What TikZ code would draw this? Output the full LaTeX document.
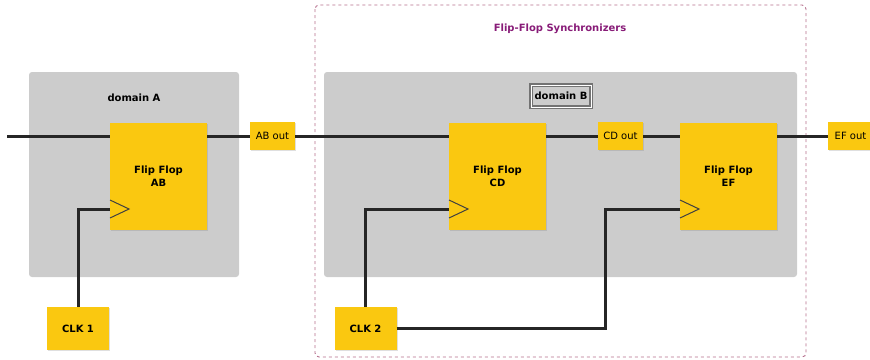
\documentclass[tikz,border=0pt]{standalone}
\usepackage{fontspec}
\setmainfont{DejaVu Sans}
\usetikzlibrary{shadows,calc}
\definecolor{ffyellow}{RGB}{250,200,16}
\definecolor{domgray}{RGB}{204,204,204}
\definecolor{synpurple}{RGB}{136,28,120}
\definecolor{dashpink}{RGB}{180,110,140}

\begin{document}
\begin{tikzpicture}[x=1pt,y=-1pt,
  font=\fontsize{10}{12}\selectfont,
  yel/.style={fill=ffyellow,inner sep=0pt,drop shadow={shadow xshift=1pt,shadow yshift=-1pt,opacity=0.25}},
  ff/.style={yel,minimum width=97pt,minimum height=107pt,align=center,font=\fontsize{10}{13}\selectfont\bfseries},
  outbox/.style={yel,minimum width=45pt,minimum height=28pt},
  clkbox/.style={yel,minimum width=62pt,minimum height=43pt,font=\fontsize{10}{12}\selectfont\bfseries},
  domainbox/.style={fill=domgray,rounded corners=3pt,inner sep=0pt},
  wire/.style={line width=3pt,black!85},
  clktri/.style={line width=1pt,black!75}]
\useasboundingbox (0,0) rectangle (870,359);

% clock domains
\draw[dashpink,dashed,line width=0.9pt,rounded corners=4pt] (315,5) rectangle (806,357);
\node at (560,29) (syntitle) {\bfseries\color{synpurple}Flip-Flop Synchronizers};
\node[domainbox,minimum width=210pt,minimum height=205pt] at (134,174.5) (domA) {};
\node[domainbox,minimum width=473pt,minimum height=205pt] at (560.5,174.5) (domB) {};
\node at (134,98) (domAlabel) {\bfseries domain A};
\node[draw=black!55,double=white,double distance=1pt,line width=1.1pt,fill=domgray,
  minimum width=60pt,minimum height=22pt,inner sep=0pt] at (561,96) (domBlabel) {\bfseries domain B};

% flip flops and signals
\node[ff] at (158.5,176) (ffab) {Flip Flop\\AB};
\node[ff] at (497.5,176) (ffcd) {Flip Flop\\CD};
\node[ff] at (728.5,176) (ffef) {Flip Flop\\EF};
\node[outbox] at (272.5,136) (about) {AB out};
\node[outbox] at (620.5,136) (cdout) {CD out};
\node[outbox] at (850.5,136) (efout) {EF out};
\node[clkbox] at (78,328.5) (clk1) {CLK 1};
\node[clkbox] at (365.5,328.5) (clk2) {CLK 2};

\coordinate (din) at (7,136);
\coordinate (clkab) at (110,209);
\coordinate (clkcd) at (449,209);
\coordinate (clkef) at (680,209);
\coordinate (jog) at (605,209);

% data path
\draw[wire] (din) -- (din -| ffab.west);
\draw[wire] (about.west -| ffab.east) -- (about.west);
\draw[wire] (about.east) -- (about.east -| ffcd.west);
\draw[wire] (cdout.west -| ffcd.east) -- (cdout.west);
\draw[wire] (cdout.east) -- (cdout.east -| ffef.west);
\draw[wire] (efout.west -| ffef.east) -- (efout.west);

% clocks
\draw[wire] (clk1.north) |- (clkab);
\draw[wire] (clk2.north) |- (clkcd);
\draw[wire] (clk2.east) -| (jog) -- (clkef);
\draw[clktri] ($(clkab)+(0,-9)$) -- ($(clkab)+(19,0)$) -- ($(clkab)+(0,9)$);
\draw[clktri] ($(clkcd)+(0,-9)$) -- ($(clkcd)+(19,0)$) -- ($(clkcd)+(0,9)$);
\draw[clktri] ($(clkef)+(0,-9)$) -- ($(clkef)+(19,0)$) -- ($(clkef)+(0,9)$);
\end{tikzpicture}
\end{document}
